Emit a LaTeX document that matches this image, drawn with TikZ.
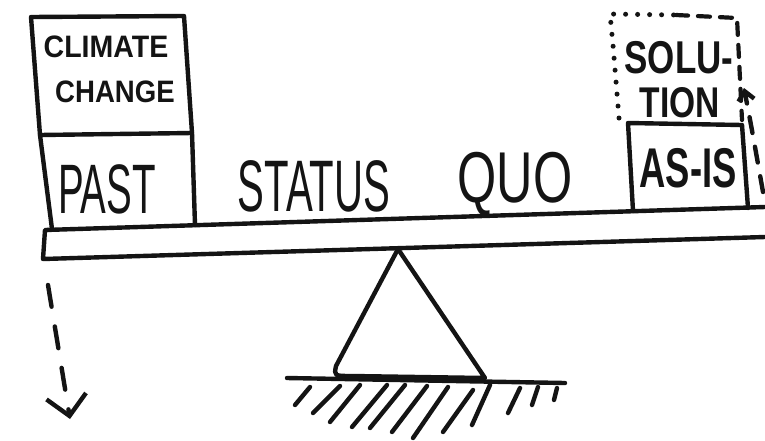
\documentclass[tikz,border=0pt]{standalone}
\usepackage{fontspec}
\setmainfont{Liberation Sans}
\usetikzlibrary{arrows.meta, calc}
\definecolor{ink}{HTML}{141414}
\definecolor{paper}{HTML}{FFFFFF}

\begin{document}
\begin{tikzpicture}[x=1pt, y=-1pt, line cap=round, line join=round,
  >={Straight Barb[length=20pt, width=40pt]},
  marker/.style={ink, line width=4.4pt},
  dotline/.style={ink, line width=5pt, dash pattern=on 0pt off 12pt},
  dashline/.style={ink, line width=4.2pt, dash pattern=on 12pt off 10pt},
  hand/.style={text=ink, inner sep=0pt, anchor=base, transform shape}]

% Background
\fill[paper] (0,0) rectangle (765,440);
\useasboundingbox (0,0) rectangle (765,440);

% === Beam ===
\coordinate (BTL) at (45,230);
\coordinate (BTR) at (765,207);
\coordinate (BBL) at (43,259);
\coordinate (BBR) at (765,237);
\draw[marker] (BTR) -- (BTL) -- (BBL) -- (BBR);

% === Left stack: past + climate change ===
\draw[marker] (31,17) -- (184,16) -- (192,133) -- (40,135) -- cycle;
\draw[marker] (40,135) -- (52,229);
\draw[marker] (192,133) -- (195,225);
\node[hand, font=\bfseries\fontsize{31}{31}\selectfont, xscale=0.92] (climate) at (106,57) {CLIMATE};
\node[hand, font=\bfseries\fontsize{31}{31}\selectfont, xscale=0.89] (change) at (115,102) {CHANGE};
\node[hand, font=\fontsize{70}{70}\selectfont, xscale=0.55] (past) at (107,213) {PAST};

% === Middle label ===
\node[hand, font=\fontsize{73}{73}\selectfont, xscale=0.55] (status) at (314,211) {STATUS};
\node[hand, font=\fontsize{72}{72}\selectfont, xscale=0.7] (quo) at (515,202) {QUO};

% === Right stack: as-is + solution ===
\draw[marker] (633,211) -- (628,123) -- (742,125) -- (748,208);
\node[hand, font=\bfseries\fontsize{56}{56}\selectfont, xscale=0.65] (asis) at (688,187) {AS-IS};

% dotted / dashed frame of the solution
\draw[dotline] (619,118) -- (613,45) -- (610,14) -- (676,15);
\draw[dashline] (676,15) -- (737,18) -- (742,120);
\node[hand, font=\bfseries\fontsize{46}{46}\selectfont, xscale=0.76] (solu) at (679,73) {SOLU-};
\node[hand, font=\bfseries\fontsize{43}{43}\selectfont, xscale=0.78] (tion) at (680,117) {TION};

% === Arrows ===
\coordinate (dropTop) at (48,285);
\coordinate (dropTip) at (70,419);
\draw[marker, dash pattern=on 22pt off 20pt, ->] (dropTop) -- (dropTip);

\coordinate (riseFoot) at (763,192);
\coordinate (riseTip) at (744,88);
\draw[marker, dash pattern=on 16pt off 14pt, -{Straight Barb[length=9pt, width=16pt]}]
  (riseFoot) .. controls (752,130) .. (riseTip);

% === Fulcrum ===
\coordinate (apex) at (398,249);
\coordinate (footR) at (485,378);
\draw[marker] (apex) -- (336,366) .. controls (334,376) .. (352,376) -- (footR) -- cycle;

% ground with hatching
\draw[marker] (287,378) -- (565,383);
\foreach \xa/\ya/\xb/\yb in {310/387/295/405, 340/386/313/413, 360/385/330/422,
    387/385/352/427, 405/385/370/428, 427/386/392/432, 448/387/413/438,
    473/390/443/432, 490/385/472/425, 520/388/508/413, 538/387/532/405,
    557/388/554/400}
  \draw[marker] (\xa,\ya) -- (\xb,\yb);

\end{tikzpicture}
\end{document}
